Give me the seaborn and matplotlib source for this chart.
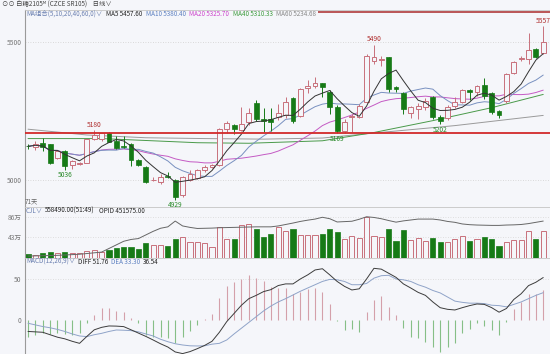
import numpy as np
import pandas as pd
import matplotlib
matplotlib.use("Agg")
import matplotlib.pyplot as plt
import seaborn as sns

# daily candles, 71 days
opens = [5124, 5118, 5135, 5129, 5079, 5106, 5054, 5059, 5063, 5147,
         5147, 5169, 5142, 5124, 5130, 5072, 5048, 4999, 4994, 5013,
         5000, 4946, 5000, 5007, 5036, 5048, 5054, 5184, 5199, 5181,
         5211, 5280, 5222, 5220, 5227, 5236, 5296, 5232, 5332, 5341,
         5350, 5320, 5266, 5179, 5228, 5230, 5284, 5432, 5436, 5444,
         5336, 5314, 5242, 5256, 5266, 5302, 5230, 5223, 5268, 5284,
         5326, 5317, 5344, 5314, 5250, 5287, 5389, 5440, 5437, 5473,
         5461]
highs = [5132, 5140, 5151, 5132, 5108, 5108, 5072, 5066, 5150, 5180,
         5172, 5175, 5160, 5160, 5133, 5075, 5052, 5010, 5020, 5030,
         5003, 5015, 5036, 5040, 5055, 5058, 5187, 5215, 5203, 5266,
         5262, 5290, 5261, 5262, 5275, 5301, 5300, 5335, 5364, 5374,
         5353, 5325, 5270, 5220, 5240, 5275, 5455, 5490, 5450, 5446,
         5340, 5318, 5268, 5278, 5296, 5305, 5234, 5270, 5300, 5330,
         5328, 5345, 5370, 5318, 5255, 5386, 5432, 5450, 5531, 5478,
         5557]
lows = [5112, 5110, 5106, 5058, 5075, 5036, 5040, 5054, 5060, 5144,
        5142, 5137, 5112, 5115, 5051, 5050, 4990, 4995, 4985, 5008,
        4929, 4940, 4998, 5003, 5030, 5045, 5052, 5170, 5168, 5178,
        5200, 5215, 5175, 5178, 5218, 5225, 5205, 5228, 5315, 5335,
        5300, 5240, 5169, 5170, 5175, 5225, 5280, 5420, 5412, 5320,
        5320, 5240, 5225, 5220, 5255, 5222, 5202, 5218, 5260, 5278,
        5290, 5305, 5295, 5240, 5225, 5280, 5385, 5432, 5420, 5442,
        5455]
closes = [5122, 5129, 5118, 5060, 5106, 5051, 5069, 5061, 5147, 5163,
          5169, 5139, 5115, 5121, 5072, 5054, 4994, 5001, 5012, 5011,
          4940, 5012, 5022, 5036, 5048, 5054, 5184, 5206, 5185, 5203,
          5244, 5220, 5215, 5211, 5244, 5284, 5215, 5329, 5341, 5353,
          5336, 5263, 5179, 5211, 5232, 5268, 5449, 5447, 5437, 5329,
          5329, 5256, 5263, 5268, 5286, 5227, 5215, 5266, 5284, 5326,
          5318, 5341, 5304, 5248, 5236, 5384, 5429, 5441, 5471, 5447,
          5501]

# volume in 万手
volumes = [6.4, 5.9, 8.5, 10.6, 8.5, 11.9, 9.7, 8.5, 14.0, 16.9,
           10.6, 15.5, 20.3, 22.5, 21.2, 17.6, 29.7, 26.1, 27.5, 23.9,
           40.2, 43.0, 33.0, 31.8, 30.9, 22.5, 64.8, 40.2, 38.8, 68.4,
           70.5, 61.4, 43.6, 50.8, 64.8, 55.7, 61.4, 48.7, 48.7, 48.7,
           50.8, 61.4, 54.2, 38.8, 45.7, 41.5, 86.0, 45.7, 43.6, 61.4,
           35.2, 58.5, 36.6, 41.5, 34.5, 41.5, 31.8, 31.8, 38.8, 45.7,
           35.2, 40.2, 42.4, 40.2, 24.6, 33.0, 36.6, 36.6, 56.3, 40.2,
           55.8]
# open interest in 万手
opid = [25.8, 25.9, 26.0, 26.1, 26.2, 26.4, 26.6, 26.8, 27.2, 27.6,
        28.0, 30.0, 32.0, 34.0, 35.0, 35.5, 37.5, 39.5, 41.2, 42.0,
        45.2, 42.5, 41.7, 41.1, 41.2, 41.3, 41.5, 41.6, 41.7, 41.8,
        41.9, 42.0, 42.0, 42.0, 42.5, 43.3, 44.1, 45.0, 45.7, 46.3,
        47.3, 46.5, 44.7, 44.9, 45.1, 46.2, 47.6, 47.2, 46.5, 45.5,
        44.6, 45.3, 45.8, 46.3, 46.3, 46.3, 45.8, 45.0, 44.5, 43.6,
        43.2, 43.0, 42.9, 42.8, 42.8, 43.0, 43.1, 43.3, 43.8, 44.5,
        45.2]

macd_bar = [-20.3, -18.3, -16.3, -17.5, -16.3, -17.5, -18.3, -16.3, -4.1, 6.1,
            15.0, 15.0, 11.0, 9.3, 2.0, -4.1, -18.3, -20.3, -20.3, -22.4,
            -28.5, -20.3, -13.4, -6.1, 1.2, 6.9, 27.2, 41.9, 46.7, 50.0,
            54.9, 51.6, 47.6, 40.7, 38.6, 39.4, 31.3, 34.6, 37.4, 39.4,
            34.6, 19.5, -0.8, -12.2, -11.0, -15.0, 10.2, 24.4, 29.7, 16.3,
            6.1, -9.3, -20.3, -21.5, -27.2, -32.5, -38.6, -32.5, -28.5, -16.3,
            -11.0, -4.1, -6.9, -12.2, -18.3, -2.0, 13.4, 22.4, 31.3, 31.3,
            36.54]
diff = [-14, -14.5, -15, -18, -21, -23, -26, -28.5, -20, -12,
        -9, -7.3, -7.5, -8.1, -12, -16, -20, -24.4, -29, -33,
        -39, -41, -38.6, -35, -31, -26, -15, -2, 8, 18,
        26, 30, 34.6, 37, 42, 44, 44, 50, 55, 61,
        62.5, 55, 47, 41, 36.6, 38, 50, 63, 62, 57,
        52, 44, 39, 33.7, 30, 22, 15, 13, 12.2, 15,
        17.5, 19.5, 19, 15, 9.5, 14, 25, 32, 41.9, 46,
        51.76]
dea = [-4, -6, -8, -9.5, -11.5, -14, -17, -19.5, -20.3, -18,
       -16.3, -14, -12.2, -12.5, -13, -14.5, -17, -19.5, -23.5, -26.5,
       -29, -30.5, -31.5, -31.7, -31.5, -29.5, -28.5, -24.4, -17, -10,
       -3, 4, 11, 17, 22, 26, 30.5, 35, 39, 43,
       47, 49.5, 49, 47, 43, 43, 44.5, 51, 54, 54.5,
       50, 49, 47, 43, 40, 36, 33, 28, 23, 21.5,
       20.5, 20.5, 20, 18, 17.5, 16, 19, 22, 26, 30,
       33.3]

# long moving averages
ma40_idx = [0, 10, 23, 30, 40, 47, 55, 63, 70]
ma40_val = [5150, 5150, 5135, 5133, 5142, 5172, 5215, 5262, 5310]
ma60_idx = [0, 8, 16, 24, 32, 40, 47, 58, 70]
ma60_val = [5184, 5163, 5153, 5150, 5148, 5152, 5170, 5197, 5234]

# marked highs / lows
hi_marks = [(9, 5180), (47, 5490), (70, 5557)]
lo_marks = [(5, 5036), (20, 4929), (42, 5169), (56, 5202)]

sns.set_theme(style="white")
plt.rcParams['font.family'] = ['Noto Sans CJK SC', 'DejaVu Sans']
plt.rcParams['axes.unicode_minus'] = False

bg = '#f5f6fa'
up_c = '#c8707c'
dn_c = '#167a16'
fs = 4.8
fs_leg = 4.55

df = pd.DataFrame({'o': opens, 'h': highs, 'l': lows, 'c': closes,
                   'vol': volumes, 'opid': opid,
                   'macd': macd_bar, 'diff': diff, 'dea': dea})
df['x'] = np.arange(len(df))
df['ma5'] = df['c'].rolling(5, min_periods=1).mean()
df['ma10'] = df['c'].rolling(10, min_periods=1).mean()
df['ma20'] = df['c'].rolling(20, min_periods=1).mean()
up = (df['c'] >= df['o']).values
x = df['x'].values

W, H = 550, 354
fig = plt.figure(figsize=(W / 100, H / 100), dpi=100, facecolor=bg)


def frame(top, bot):
    return [25 / W, 1 - bot / H, (W - 25) / W, (bot - top) / H]


ax = fig.add_axes(frame(10, 207))
axv = fig.add_axes(frame(207, 257.5), sharex=ax)
axm = fig.add_axes(frame(257.5, 354), sharex=ax)

for a in (ax, axv, axm):
    a.set_facecolor(bg)
    for s in ('right', 'bottom'):
        a.spines[s].set_visible(False)
    a.spines['left'].set_color('#9a9a9a')
    a.spines['left'].set_linewidth(0.8)
    a.spines['top'].set_color('#c4c4c4')
    a.spines['top'].set_linewidth(0.6)
    a.tick_params(axis='x', bottom=False, labelbottom=False)
    a.tick_params(axis='y', length=0, pad=2.5, labelsize=fs, colors='#777777')

# main price panel
ax.set_xlim(-0.41, 70.92)
ax.set_ylim(4902, 5616)
for lv in (5000, 5500):
    ax.axhline(lv, color='#cfcfcf', lw=0.6, ls=(0, (1, 2)), zorder=0)

ax.vlines(x, df['l'], df['h'], colors=np.where(up, up_c, dn_c), lw=0.7, zorder=2)
ax.bar(x[up], (df['c'] - df['o'])[up], bottom=df['o'][up], width=0.66,
       facecolor=bg, edgecolor=up_c, linewidth=0.7, zorder=3)
ax.bar(x[~up], (df['o'] - df['c'])[~up], bottom=df['c'][~up], width=0.66,
       color=dn_c, edgecolor=dn_c, linewidth=0.5, zorder=3)

sns.lineplot(x=ma60_idx, y=ma60_val, ax=ax, color='#9a9a9a', lw=0.7, zorder=1)
sns.lineplot(x=ma40_idx, y=ma40_val, ax=ax, color='#4a9a4a', lw=0.7, zorder=1)
sns.lineplot(data=df, x='x', y='ma20', ax=ax, color='#c45ac4', lw=0.7, zorder=1)
sns.lineplot(data=df, x='x', y='ma10', ax=ax, color='#7890c0', lw=0.7, zorder=1)
sns.lineplot(data=df, x='x', y='ma5', ax=ax, color='#333333', lw=0.7, zorder=4)

ax.axhline(5171, color='#d22a2a', lw=1.3, zorder=5)
ax.hlines(5609, 39.4, 70.92, color='#b03a3a', lw=1.2, zorder=5)

for i, v in hi_marks:
    ax.annotate(str(v), (i, v), xytext=(0, 1), textcoords='offset points',
                ha='center', va='bottom', fontsize=fs, color='#b03030')
for i, v in lo_marks:
    ax.annotate(str(v), (i, v), xytext=(0, -1), textcoords='offset points',
                ha='center', va='top', fontsize=fs, color='#2a8a2a')

ax.set_yticks([5000, 5500])
ax.set_yticklabels(['5000', '5500'])
ax.set_ylabel('')
ax.set_xlabel('')

# volume panel
axv.set_ylim(0, 107)
for lv in (43, 86):
    axv.axhline(lv, color='#d6d6d6', lw=0.6, ls=(0, (1, 2)), zorder=0)
axv.bar(x[up], df['vol'][up], width=0.7, facecolor=bg, edgecolor=up_c, linewidth=0.7, zorder=2)
axv.bar(x[~up], df['vol'][~up], width=0.7, color=dn_c, edgecolor=dn_c, linewidth=0.5, zorder=2)
axv.set_yticks([43, 86])
axv.set_yticklabels(['43万', '86万'])
axv.set_ylabel('')

axo = axv.twinx()
sns.lineplot(data=df, x='x', y='opid', ax=axo, color='#666666', lw=0.7)
axo.set_ylim(25, 53)
axo.set_yticks([])
axo.set_ylabel('')
for s in axo.spines.values():
    s.set_visible(False)

# MACD panel
axm.set_ylim(-41.5, 76.2)
axm.axhline(50, color='#d6d6d6', lw=0.6, ls=(0, (1, 2)), zorder=0)
axm.vlines(x, 0, df['macd'], colors=np.where(df['macd'] > 0, '#d4a0aa', '#86bf86'),
           lw=0.8, zorder=1)
sns.lineplot(data=df, x='x', y='dea', ax=axm, color='#8fa3c8', lw=0.7, zorder=2)
sns.lineplot(data=df, x='x', y='diff', ax=axm, color='#3c3c3c', lw=0.7, zorder=3)
axm.set_yticks([0, 50])
axm.set_yticklabels(['0', '50'])
axm.set_ylabel('')
axm.set_xlabel('')


def ptext(px, py, s, color='#333333'):
    fig.text(px / W, 1 - py / H, s, color=color, fontsize=fs_leg, ha='left', va='center')


ptext(2, 4.5, '⊙⊙ 白糖2105ᴹ (CZCE SR105)    日线∨', '#444444')

ptext(26, 14.5, 'MA组合(5,10,20,40,60,0)∨', '#6a7fb0')
ptext(106, 14.5, 'MA5 5457.60', '#222222')
ptext(146, 14.5, 'MA10 5380.40', '#5b7fc0')
ptext(189, 14.5, 'MA20 5325.70', '#cc44cc')
ptext(233, 14.5, 'MA40 5310.33', '#3a9a3a')
ptext(276, 14.5, 'MA60 5234.68', '#888888')

ptext(25, 201.5, '71天', '#666666')

ptext(26, 211, 'CJL∨', '#6a7fb0')
ptext(45, 211, '558490.00(51:49)', '#222222')
ptext(99, 211, 'OPID 451575.00', '#222222')

ptext(26, 261.5, 'MACD(12,26,9)∨', '#6a7fb0')
ptext(78, 261.5, 'DIFF 51.76', '#222222')
ptext(111, 261.5, 'DEA 33.30', '#5b7fc0')
ptext(143, 261.5, '36.54', '#222222')

fig.savefig('out.png', dpi=100, facecolor=bg)
